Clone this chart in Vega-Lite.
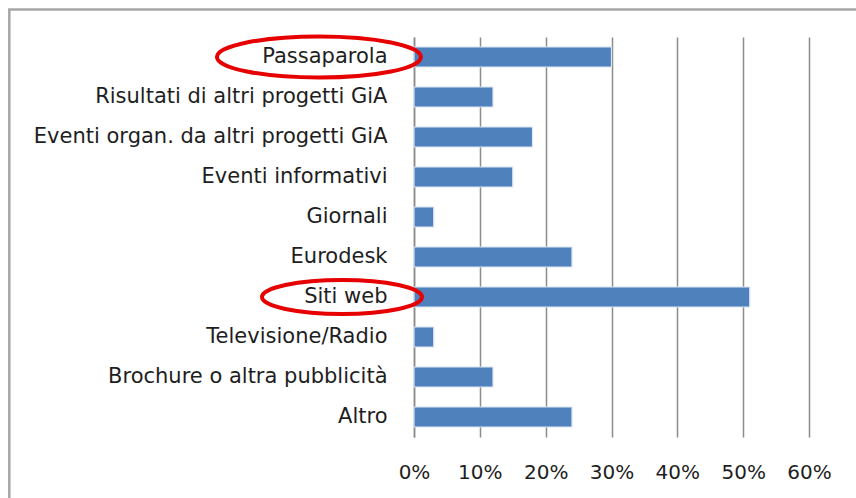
{
  "$schema": "https://vega.github.io/schema/vega-lite/v6.json",
  "width": 395,
  "height": 400,
  "autosize": {"type": "none"},
  "padding": {"left": 414, "top": 37, "right": 47, "bottom": 61},
  "background": "white",
  "config": {
    "view": {"stroke": null},
    "font": "DejaVu Sans"
  },
  "datasets": {
    "bars": [
      {"fonte": "Passaparola", "quota": 0.30},
      {"fonte": "Risultati di altri progetti GiA", "quota": 0.12},
      {"fonte": "Eventi organ. da altri progetti GiA", "quota": 0.18},
      {"fonte": "Eventi informativi", "quota": 0.15},
      {"fonte": "Giornali", "quota": 0.03},
      {"fonte": "Eurodesk", "quota": 0.24},
      {"fonte": "Siti web", "quota": 0.51},
      {"fonte": "Televisione/Radio", "quota": 0.03},
      {"fonte": "Brochure o altra pubblicità", "quota": 0.12},
      {"fonte": "Altro", "quota": 0.24}
    ],
    "marks": [
      {"fonte": "Passaparola", "centro": -0.1444, "evid": "a"},
      {"fonte": "Siti web", "centro": -0.1094, "evid": "b"}
    ]
  },
  "layer": [
    {
      "layer": [
        {
          "data": {"name": "bars"},
          "mark": {"type": "bar", "color": "#4F81BD", "stroke": "#DCE6F2", "strokeWidth": 1.2},
          "encoding": {
            "y": {
              "field": "fonte", "type": "nominal", "sort": null,
              "scale": {"paddingInner": 0.5, "paddingOuter": 0.25},
              "axis": {
                "title": null, "ticks": false, "domain": true, "domainColor": "#8C8C8C", "domainWidth": 1.5,
                "labelFontSize": 21, "labelColor": "#1E1E1E", "labelPadding": 27, "labelLimit": 0
              }
            },
            "x": {
              "field": "quota", "type": "quantitative",
              "scale": {"domain": [0, 0.6], "nice": false},
              "axis": {
                "title": null, "format": "~%", "values": [0, 0.1, 0.2, 0.3, 0.4, 0.5, 0.6],
                "grid": true, "gridColor": "#8C8C8C", "gridWidth": 1.5, "ticks": false, "domain": false,
                "labelFlush": false,
                "labelFontSize": 20, "labelColor": "#1E1E1E", "labelPadding": 25
              }
            }
          }
        },
        {
          "data": {"name": "marks"},
          "transform": [{"filter": "datum.evid == 'a'"}],
          "mark": {
            "type": "point", "clip": false, "filled": false, "stroke": "#E60000", "strokeWidth": 4, "opacity": 1,
            "shape": "M -1 0 A 1 0.201 0 1 0 1 0 A 1 0.201 0 1 0 -1 0 Z",
            "size": 41616
          },
          "encoding": {
            "y": {"field": "fonte", "type": "nominal", "sort": null},
            "x": {"field": "centro", "type": "quantitative"}
          }
        },
        {
          "data": {"name": "marks"},
          "transform": [{"filter": "datum.evid == 'b'"}],
          "mark": {
            "type": "point", "clip": false, "filled": false, "stroke": "#E60000", "strokeWidth": 4, "opacity": 1,
            "shape": "M -1 0 A 1 0.2125 0 1 0 1 0 A 1 0.2125 0 1 0 -1 0 Z",
            "size": 25600
          },
          "encoding": {
            "y": {"field": "fonte", "type": "nominal", "sort": null},
            "x": {"field": "centro", "type": "quantitative"}
          }
        }
      ]
    },
    {
      "data": {"values": [{}]},
      "mark": {"type": "rect", "clip": false, "fill": null, "filled": false, "stroke": "#A6A6A6", "strokeWidth": 2.5},
      "encoding": {
        "x": {"datum": -0.6147, "type": "quantitative"},
        "x2": {"datum": 0.9},
        "y": {"datum": 1.06875, "type": "quantitative", "scale": {"domain": [0, 1], "nice": false, "zero": false}, "axis": null},
        "y2": {"datum": -0.5}
      }
    }
  ],
  "resolve": {"scale": {"y": "independent"}}
}
